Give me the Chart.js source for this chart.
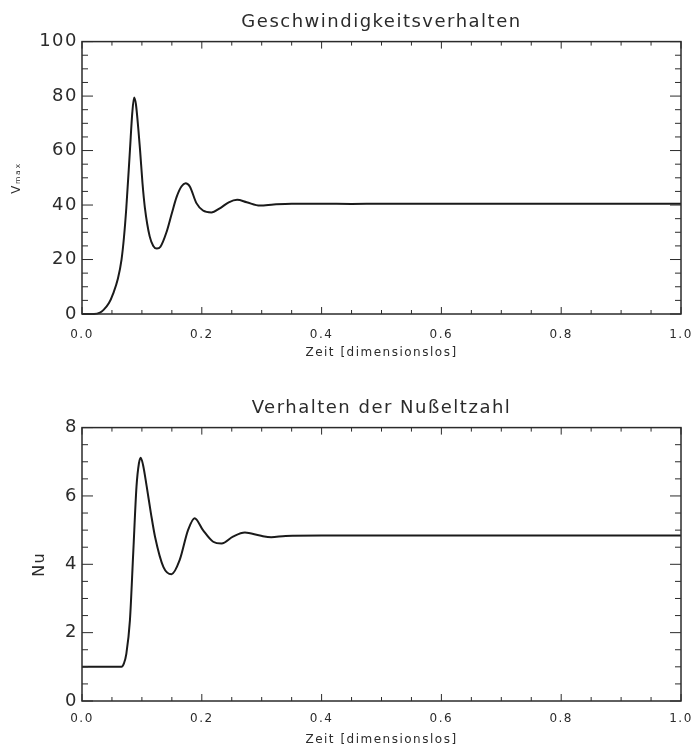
<!DOCTYPE html>
<html lang="de">
<head>
  <meta charset="UTF-8" />
  <title>Geschwindigkeitsverhalten und Nußeltzahl</title>
  <script src="https://cdn.jsdelivr.net/npm/chart.js"></script>
  <style>
    body {
      margin: 0;
      background: #fff;
    }
    .wrap {
      width: 696px;
      height: 749px;
    }
    canvas {
      display: block;
    }
  </style>
</head>
<body>
  <div class="wrap">
    <canvas id="vChart" width="696" height="370"></canvas>
    <canvas id="nuChart" width="696" height="379"></canvas>
  </div>

  <script>
    // values
    const timeV = [0, 0.02, 0.03, 0.036, 0.045, 0.052, 0.06, 0.066, 0.07, 0.074, 0.08, 0.084, 0.087, 0.09, 0.094,
      0.097, 0.101, 0.105, 0.113, 0.119, 0.125, 0.131, 0.141, 0.15, 0.158, 0.166, 0.173, 0.18, 0.191, 0.202,
      0.216, 0.23, 0.245, 0.259, 0.275, 0.297, 0.32, 0.35, 0.4, 0.45, 0.5, 0.6, 0.7, 0.8, 0.9, 1.0];
    const vmaxValues = [0, 0, 0.5, 1.5, 4, 7.5, 13, 20, 28, 39, 60, 74, 79.5, 77, 68,
      60, 48, 39, 28.5, 25, 24, 24.7, 30, 37, 43, 46.8, 48, 46.8, 40.7, 38,
      37.3, 38.8, 41, 41.9, 41, 39.8, 40.2, 40.5, 40.5, 40.4, 40.5, 40.5, 40.5, 40.5, 40.5, 40.5];

    const timeNu = [0, 0.066, 0.07, 0.074, 0.08, 0.0855, 0.091, 0.095, 0.098, 0.102, 0.108, 0.115, 0.122, 0.136,
      0.1495, 0.163, 0.177, 0.188, 0.202, 0.219, 0.233, 0.252, 0.272, 0.297, 0.316, 0.34, 0.4, 0.5, 0.6, 0.8, 1.0];
    const nuValues = [1.0, 1.0, 1.1, 1.38, 2.36, 4.32, 6.28, 6.95, 7.12, 6.9, 6.28, 5.5, 4.8, 3.92,
      3.71, 4.12, 5.0, 5.35, 5.0, 4.66, 4.61, 4.81, 4.93, 4.84, 4.79, 4.83, 4.84, 4.84, 4.84, 4.84, 4.84];

    const xTickValues = [0, 0.2, 0.4, 0.6, 0.8, 1.0];
    const vTickValues = [0, 20, 40, 60, 80, 100];
    const nuTickValues = [0, 2, 4, 6, 8];

    const ink = '#2b2b2b';
    const font = 'DejaVu Sans';

    // IDL-style box: frame plus inward major/minor ticks on all four sides
    const idlFrame = {
      id: 'idlFrame',
      beforeDraw(chart) {
        chart.ctx.letterSpacing = '1.5px';
      },
      afterDatasetsDraw(chart, args, opts) {
        const { ctx, chartArea: a, scales: { x, y } } = chart;
        ctx.save();
        ctx.strokeStyle = ink;
        ctx.lineWidth = 1;
        const seg = (x1, y1, x2, y2) => {
          ctx.beginPath();
          ctx.moveTo(x1, y1);
          ctx.lineTo(x2, y2);
          ctx.stroke();
        };
        const nx = Math.round((x.max - x.min) / opts.xMinor);
        for (let i = 0; i <= nx; i++) {
          const px = x.getPixelForValue(x.min + i * opts.xMinor);
          const len = i % 4 === 0 ? 7 : 4;
          seg(px, a.bottom, px, a.bottom - len);
          seg(px, a.top, px, a.top + len);
        }
        const ny = Math.round((y.max - y.min) / opts.yMinor);
        for (let i = 0; i <= ny; i++) {
          const py = y.getPixelForValue(y.min + i * opts.yMinor);
          const len = i % 4 === 0 ? 11 : 6;
          seg(a.left, py, a.left + len, py);
          seg(a.right, py, a.right - len, py);
        }
        ctx.lineWidth = 1.5;
        ctx.strokeRect(a.left, a.top, a.right - a.left, a.bottom - a.top);
        ctx.restore();
      }
    };

    function makeChart(id, xs, ys, cfg) {
      return new Chart(document.getElementById(id), {
        type: 'line',
        data: {
          datasets: [{
            data: xs.map((t, i) => ({ x: t, y: ys[i] })),
            borderColor: '#1a1a1a',
            borderWidth: 2,
            pointRadius: 0,
            cubicInterpolationMode: 'monotone',
            clip: false
          }]
        },
        options: {
          responsive: false,
          animation: false,
          devicePixelRatio: 1,
          layout: { padding: { left: 0, right: 15, top: 0, bottom: 0 } },
          plugins: {
            legend: { display: false },
            tooltip: { enabled: false },
            title: {
              display: true,
              fullSize: false,
              text: cfg.title,
              color: ink,
              font: { family: font, size: 18, weight: 'normal' },
              padding: cfg.titlePad
            },
            idlFrame: { xMinor: 0.05, yMinor: cfg.yMinor }
          },
          scales: {
            x: {
              type: 'linear',
              min: 0,
              max: 1,
              afterBuildTicks: s => { s.ticks = xTickValues.map(v => ({ value: v })); },
              afterFit: s => {
                s.height = cfg.xAxisHeight;
                s.paddingLeft = 0;
                s.paddingRight = 0;
              },
              grid: { display: false, drawTicks: false },
              border: { display: false },
              ticks: {
                color: ink,
                padding: cfg.xTickPad,
                maxRotation: 0,
                font: { family: font, size: 12 },
                callback: v => v.toFixed(1)
              },
              title: {
                display: true,
                text: 'Zeit [dimensionslos]',
                color: ink,
                font: { family: font, size: 12 },
                padding: { top: 0, bottom: cfg.xTitleBottom }
              }
            },
            y: {
              min: cfg.yMin,
              max: cfg.yMax,
              afterBuildTicks: s => { s.ticks = cfg.yTicks.map(v => ({ value: v })); },
              afterFit: s => { s.width = 82; },
              grid: { display: false, drawTicks: false },
              border: { display: false },
              ticks: {
                color: ink,
                padding: 4,
                font: { family: font, size: 18 }
              },
              title: {
                display: true,
                text: cfg.yTitle,
                color: ink,
                font: { family: font, size: cfg.yTitleSize },
                padding: { top: cfg.yTitleOffset, bottom: 0 }
              }
            }
          }
        },
        plugins: [idlFrame]
      });
    }

    makeChart('vChart', timeV, vmaxValues, {
      title: 'Geschwindigkeitsverhalten',
      titlePad: { top: 12, bottom: 8 },
      xAxisHeight: 56,
      xTickPad: 14,
      xTitleBottom: 10,
      yMin: 0, yMax: 100, yMinor: 5, yTicks: vTickValues,
      yTitle: 'Vₘₐₓ', yTitleSize: 12, yTitleOffset: 10
    });

    makeChart('nuChart', timeNu, nuValues, {
      title: 'Verhalten der Nußeltzahl',
      titlePad: { top: 28, bottom: 8 },
      xAxisHeight: 48,
      xTickPad: 11,
      xTitleBottom: 2,
      yMin: 0, yMax: 8, yMinor: 0.5, yTicks: nuTickValues,
      yTitle: 'Nu', yTitleSize: 16, yTitleOffset: 30
    });
  </script>
</body>
</html>
